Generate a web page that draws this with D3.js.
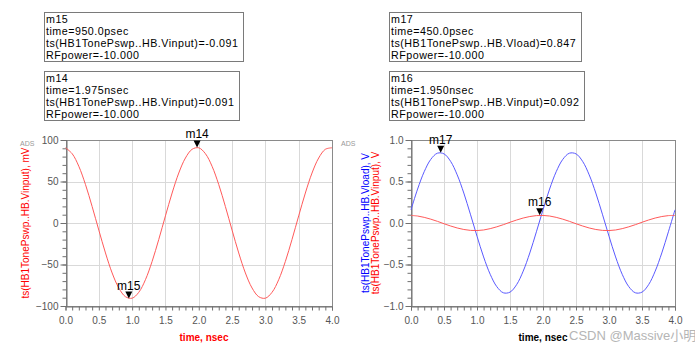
<!DOCTYPE html>
<html><head><meta charset="utf-8">
<script src="https://cdn.jsdelivr.net/npm/d3@7"></script>
<style>body{margin:0;background:#fff} svg{display:block}</style>
</head><body><svg id="c" width="695" height="346"></svg>
<script>
// ---------- data ----------
const time = [0,0.1,0.2,0.3,0.4,0.5,0.6,0.7,0.8,0.9,1.0,1.1,1.2,1.3,1.4,1.5,1.6,1.7,1.8,1.9,2.0,
              2.1,2.2,2.3,2.4,2.5,2.6,2.7,2.8,2.9,3.0,3.1,3.2,3.3,3.4,3.5,3.6,3.7,3.8,3.9,4.0];
const vinputMV = [90.6,83.5,68.3,46.3,19.8,-8.6,-36.1,-60.2,-78.3,-88.8,-90.6,-83.5,-68.3,-46.3,-19.8,8.6,36.1,60.2,78.3,88.8,90.6,
                  83.5,68.3,46.3,19.8,-8.6,-36.1,-60.2,-78.3,-88.8,-90.6,-83.5,-68.3,-46.3,-19.8,8.6,36.1,60.2,78.3,88.8,90.6];
const vloadV = [0.159,0.409,0.618,0.767,0.841,0.833,0.743,0.580,0.361,0.106,-0.159,-0.409,-0.618,-0.767,-0.841,-0.833,-0.743,-0.580,-0.361,-0.106,0.159,
                0.409,0.618,0.767,0.841,0.833,0.743,0.580,0.361,0.106,-0.159,-0.409,-0.618,-0.767,-0.841,-0.833,-0.743,-0.580,-0.361,-0.106,0.159];
const vinputV = [0.091,0.084,0.068,0.046,0.020,-0.009,-0.036,-0.060,-0.078,-0.089,-0.091,-0.084,-0.068,-0.046,-0.020,0.009,0.036,0.060,0.078,0.089,0.091,
                 0.084,0.068,0.046,0.020,-0.009,-0.036,-0.060,-0.078,-0.089,-0.091,-0.084,-0.068,-0.046,-0.020,0.009,0.036,0.060,0.078,0.089,0.091];
const xTicks = [0,0.5,1.0,1.5,2.0,2.5,3.0,3.5,4.0];
const leftYTicks = [-100,-50,0,50,100];
const rightYTicks = [-1.0,-0.5,0.0,0.5,1.0];
const leftMarkerNames = ["m15","m14"];
const leftMarkerTimes = [0.95,1.975];
const leftMarkerValues = [-91,91];
const rightMarkerNames = ["m17","m16"];
const rightMarkerTimes = [0.45,1.95];
const rightMarkerValues = [0.847,0.092];
const leftBoxes = [
  ["m15","time=950.0psec","ts(HB1TonePswp..HB.Vinput)=-0.091","RFpower=-10.000"],
  ["m14","time=1.975nsec","ts(HB1TonePswp..HB.Vinput)=0.091","RFpower=-10.000"]
];
const rightBoxes = [
  ["m17","time=450.0psec","ts(HB1TonePswp..HB.Vload)=0.847","RFpower=-10.000"],
  ["m16","time=1.950nsec","ts(HB1TonePswp..HB.Vinput)=0.092","RFpower=-10.000"]
];

// ---------- drawing ----------
const svg = d3.select("#c");
const FONT = "Liberation Sans, Arial, sans-serif";
const RED_LINE = "#ff5a5a", BLUE_LINE = "#5a5aff";

function boxes(list, x, widths){
  const tops = [12, 71];
  list.forEach((lines, i) => {
    const g = svg.append("g");
    g.append("rect").attr("x", x+0.5).attr("y", tops[i]+0.5).attr("width", widths[i]).attr("height", 49)
      .attr("fill", "#fff").attr("stroke", "#7a7a7a").attr("stroke-width", 1);
    lines.forEach((t, j) => {
      g.append("text").attr("x", x+2).attr("y", tops[i]+10.5+j*12).text(t)
        .attr("font-family", FONT).attr("font-size", "10.7px").attr("letter-spacing", "0.5px").attr("fill", "#000");
    });
  });
}
boxes(leftBoxes, 44, [199, 195]);
boxes(rightBoxes, 389, [192, 195]);

function panel(opts){
  const x = d3.scaleLinear().domain([0,4]).range([opts.x0, opts.x1]);
  const y = d3.scaleLinear().domain(opts.ydom).range([306, 140]);
  const g = svg.append("g");
  // grid
  g.append("g").selectAll("line").data(xTicks.slice(1,-1)).join("line")
    .attr("x1", d=>Math.round(x(d))+0.5).attr("x2", d=>Math.round(x(d))+0.5)
    .attr("y1", 140).attr("y2", 306).attr("stroke", "#d9d9d9");
  g.append("g").selectAll("line").data(opts.yticks.slice(1,-1)).join("line")
    .attr("y1", d=>Math.round(y(d))+0.5).attr("y2", d=>Math.round(y(d))+0.5)
    .attr("x1", opts.x0).attr("x2", opts.x1).attr("stroke", "#d9d9d9");
  // frame
  g.append("rect").attr("x", Math.round(opts.x0)+0.5).attr("y", 140.5)
    .attr("width", Math.round(opts.x1)-Math.round(opts.x0)).attr("height", 166)
    .attr("fill", "none").attr("stroke", "#8a8a8a");
  // axes
  const xMinor = d3.range(0, 41).map(i => i/10);
  const yMinor = d3.range(0, 21).map(i => opts.ydom[0] + i*(opts.ydom[1]-opts.ydom[0])/20);
  const xAxis = d3.axisBottom(x).tickValues(xMinor).tickSize(4).tickFormat("");
  const xg = g.append("g").attr("transform", "translate(0,306.5)").call(xAxis);
  const yAxis = d3.axisLeft(y).tickValues(yMinor).tickSize(4).tickFormat("");
  const yg = g.append("g").attr("transform", `translate(${Math.round(opts.x0)+0.5},0)`).call(yAxis);
  [xg, yg].forEach(a => { a.select(".domain").attr("stroke", "#707070"); a.selectAll(".tick line").attr("stroke", "#707070"); });
  // major tick labels
  const xl = d3.axisBottom(x).tickValues(xTicks).tickSize(0).tickPadding(11).tickFormat(d3.format(".1f"));
  const xlg = g.append("g").attr("transform", "translate(0,306)").call(xl);
  xlg.select(".domain").remove();
  xlg.selectAll("text").attr("font-family", FONT).attr("font-size", "10px").attr("fill", "#555");
  const yl = d3.axisLeft(y).tickValues(opts.yticks).tickSize(6).tickPadding(2).tickFormat(opts.yfmt);
  const ylg = g.append("g").attr("transform", `translate(${Math.round(opts.x0)+0.5},0)`).call(yl);
  ylg.select(".domain").remove();
  ylg.selectAll(".tick line").attr("stroke", "#707070");
  ylg.selectAll("text").attr("font-family", FONT).attr("font-size", "10px").attr("fill", "#555");
  // ADS tag
  svg.append("text").attr("x", opts.adsX).attr("y", 146).text("ADS")
    .attr("font-family", FONT).attr("font-size", "7px").attr("fill", "#999");
  // lines
  const line = d3.line().x((d,i)=>x(time[i])).y(d=>y(d)).curve(d3.curveCatmullRom);
  opts.series.forEach(s => {
    g.append("path").datum(s.values).attr("d", line).attr("fill","none")
      .attr("stroke", s.color).attr("stroke-width", 1);
  });
  // markers
  opts.markers.names.forEach((nm, i) => {
    const px = x(opts.markers.t[i]), py = y(opts.markers.v[i]);
    g.append("path").attr("d", `M${px-3.5},${py-7}L${px+3.5},${py-7}L${px},${py}Z`).attr("fill", "#000");
    g.append("text").attr("x", px).attr("y", py-9).attr("text-anchor","middle").text(nm)
      .attr("font-family", FONT).attr("font-size", "12px").attr("fill", "#000");
  });
  // x label
  g.append("text").attr("x", opts.xlabX).attr("y", 341).attr("text-anchor","middle").text("time, nsec")
    .attr("font-family", FONT).attr("font-size", "10px").attr("font-weight", "bold").attr("fill", opts.xlabColor);
  // y labels
  opts.ylabels.forEach(l => {
    g.append("text").attr("transform", `translate(${l.x},223) rotate(-90)`).attr("text-anchor","middle")
      .text(l.text).attr("font-family", FONT).attr("font-size", "10px").attr("fill", l.color);
  });
  return {x, y};
}

panel({x0:65.5, x1:332, ydom:[-100,100], yticks:leftYTicks, yfmt:d3.format("d"), adsX:20,
  series:[{values:vinputMV, color:RED_LINE}],
  markers:{names:leftMarkerNames, t:leftMarkerTimes, v:leftMarkerValues},
  xlabX:204, xlabColor:"#ff0000",
  ylabels:[{x:29, text:"ts(HB1TonePswp..HB.Vinput), mV", color:"#ff0000"}]});

panel({x0:411, x1:675, ydom:[-1,1], yticks:rightYTicks, yfmt:d3.format(".1f"), adsX:341,
  series:[{values:vloadV, color:BLUE_LINE},{values:vinputV, color:RED_LINE}],
  markers:{names:rightMarkerNames, t:rightMarkerTimes, v:rightMarkerValues},
  xlabX:543, xlabColor:"#000",
  ylabels:[{x:369, text:"ts(HB1TonePswp..HB.Vload), V", color:"#0000ff"},
           {x:379, text:"ts(HB1TonePswp..HB.Vinput), V", color:"#ff0000"}]});

svg.append("text").attr("x", 569).attr("y", 340).text("CSDN @Massive小明")
  .attr("font-family", "Liberation Sans, Noto Sans CJK SC, sans-serif").attr("font-size", "13px").attr("fill", "#b5b5b5");
</script></body></html>
